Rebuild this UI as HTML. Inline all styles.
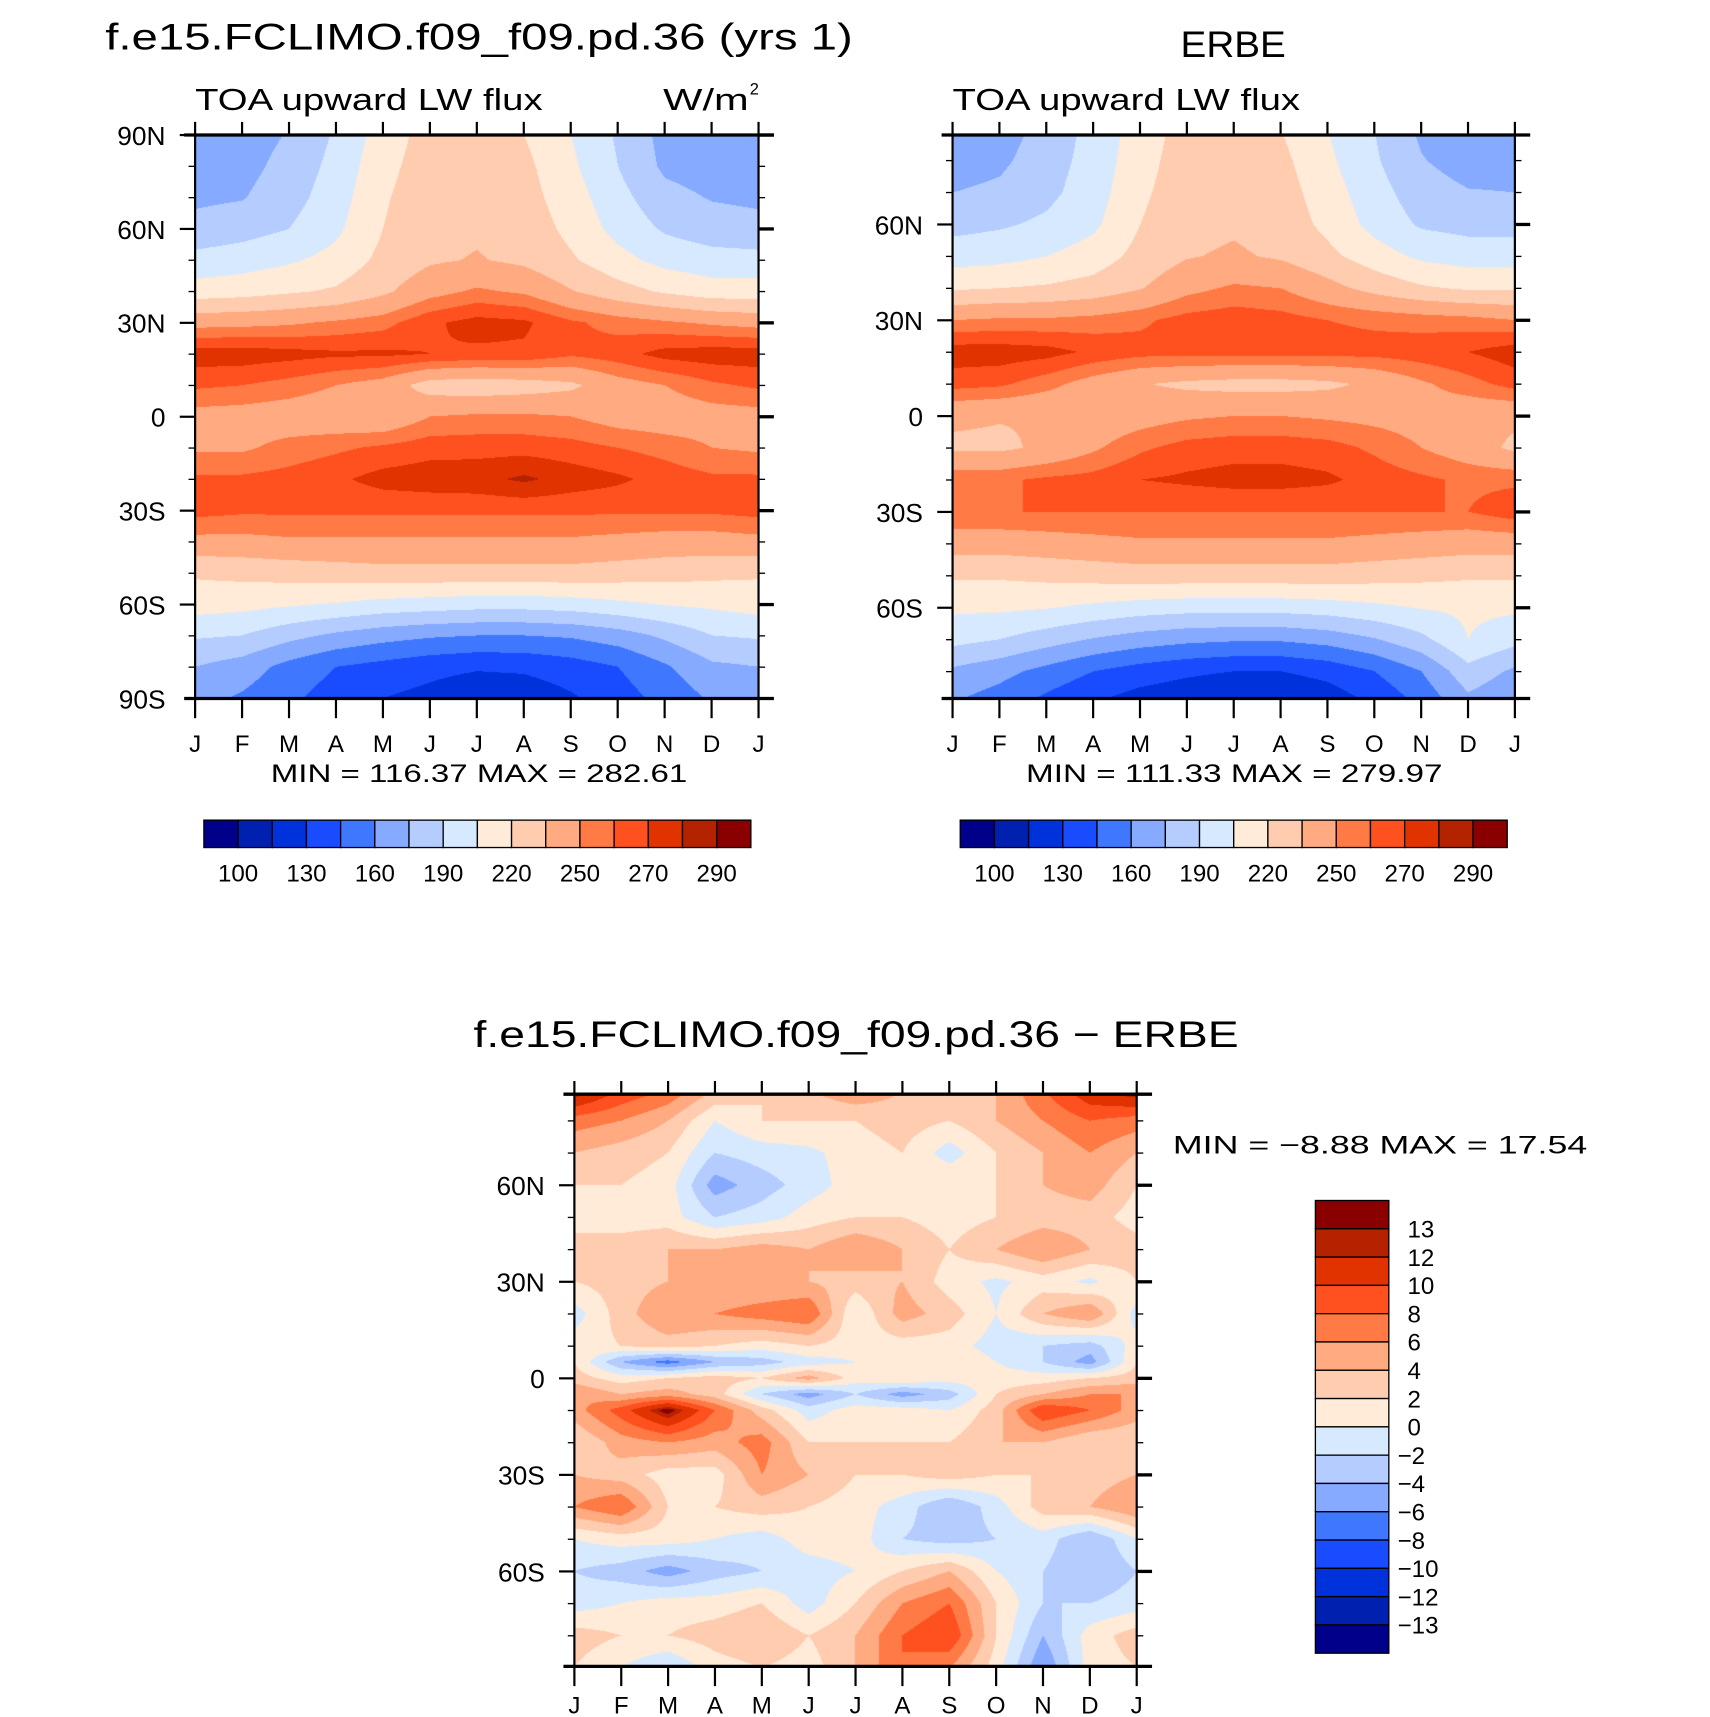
<!DOCTYPE html>
<html><head><meta charset="utf-8"><style>
html,body{margin:0;padding:0;background:#fff;}
#wrap{position:relative;width:1710px;height:1717px;overflow:hidden;}
canvas{position:absolute;}
svg{position:absolute;left:0;top:0;}
text{font-family:"Liberation Sans",sans-serif;fill:#000;}
</style></head><body>
<div id="wrap">
<canvas id="c1"></canvas>
<canvas id="c2"></canvas>
<canvas id="c3"></canvas>
<svg id="ov" width="1710" height="1717" viewBox="0 0 1560 1566"></svg>
</div>
<script>
// ---- data ----
const months = ["J","F","M","A","M","J","J","A","S","O","N","D","J"];
const colors = ["#00008a","#0020b0","#0032dc","#1a4cff","#3f78ff","#85aaff","#b4ccff","#d7e9ff","#ffebd8","#ffccb0","#ffaa80","#ff7a45","#ff5020","#e13300","#b52200","#8a0000"];
const fluxLevels = [100,115,130,145,160,175,190,205,220,235,250,260,270,280,290];
const fluxLabels = ["100","130","160","190","220","250","270","290"];
const diffLevels = [-13,-12,-10,-8,-6,-4,-2,0,2,4,6,8,10,12,13];
const diffLabels = ["13","12","10","8","6","4","2","0","\u22122","\u22124","\u22126","\u22128","\u221210","\u221212","\u221213"];
const fluxLats = [90,80,70,60,50,40,30,20,10,0,-10,-20,-30,-40,-50,-60,-70,-80,-90];
const modelVals = [
[168,168,176,192,212,226,228,220,205,188,170,166,168],
[168,170,180,195,215,228,230,224,208,190,172,168,168],
[172,174,184,198,218,230,232,226,212,195,180,174,172],
[180,184,190,202,220,231,233,229,216,200,188,182,180],
[195,198,203,210,224,233,236,232,222,210,200,196,195],
[212,214,218,222,232,245,252,248,236,226,218,212,212],
[245,246,248,252,256,268,274,272,262,256,252,248,245],
[276,276,274,272,272,270,268,268,262,266,274,276,276],
[262,260,256,250,244,228,226,228,232,244,250,258,262],
[245,244,242,240,238,250,252,252,250,244,242,244,245],
[248,248,254,258,262,266,266,266,264,260,256,250,248],
[262,262,264,268,274,276,277,282,276,272,266,262,262],
[264,262,262,262,262,262,262,262,262,262,262,262,264],
[246,246,248,248,248,248,248,248,248,246,244,244,246],
[222,224,226,228,230,230,230,230,230,228,226,224,222],
[212,210,207,204,200,198,196,196,198,202,206,208,212],
[192,190,180,172,166,162,160,160,162,168,178,190,192],
[175,168,155,145,140,135,132,133,138,145,158,172,175],
[165,158,148,138,130,125,118,120,128,138,150,162,165]];
const erbeVals = [
[158,168,180,195,212,226,228,220,205,190,172,162,158],
[168,172,183,196,214,228,230,224,208,192,176,168,168],
[175,178,186,198,217,229,231,227,212,196,182,176,175],
[185,188,193,202,220,231,233,229,216,200,188,185,185],
[198,200,205,212,225,234,237,233,224,212,202,198,198],
[218,220,222,226,234,246,252,250,240,230,222,218,218],
[250,252,252,254,258,264,266,264,260,258,256,254,250],
[276,276,274,268,264,264,264,264,264,264,266,270,276],
[264,262,254,244,236,232,230,230,232,238,248,256,264],
[238,236,236,240,244,248,250,250,248,246,244,240,238],
[232,232,238,248,258,264,266,266,264,258,250,242,232],
[258,258,262,264,270,272,274,274,272,266,262,258,258],
[260,260,260,260,260,260,260,260,260,260,260,260,266],
[242,242,244,246,248,248,248,248,248,246,244,242,242],
[222,222,224,226,228,228,228,228,228,226,224,222,222],
[208,208,206,202,198,196,196,196,198,202,206,208,208],
[195,190,182,174,168,164,162,162,166,174,186,205,195],
[172,165,155,145,138,133,130,130,135,145,160,185,172],
[160,152,140,130,122,118,114,114,120,132,148,170,160]];
const diffLats = [90,80,70,60,50,40,30,20,10,5,0,-5,-10,-20,-30,-40,-50,-60,-70,-80,-90];
const diffVals = [
[14,10,8,4,2,4,6,4,2,4,8,12,14],
[7,6,4,0,2,2,2,3,2,4,6,8,7],
[4,3,2,-2,-1,-0.5,1,2,-1,2,4,6,4],
[2,2,1,-5,-3,-1,1,2,2,2,4,5,2],
[1,1,1,-2,-1,1,2,2,1,2,3,3,1],
[3,3,4,4,5,4,6,4,2,4,6,4,3],
[2,3,4,4,4,4,3,4,1,-0.5,1,-0.5,2],
[-1,3,6,6,7,8,0,5,3,0,4,6,-1],
[1,2,3,2,1,2,1,1,1,-1,-2,-3,1],
[2,-4,-7,-4,-3,-1,0,1,2,0,-2,-5,2],
[3,1,2,3,2,5,1,2,1,1,1,2,3],
[6,4,5,3,-2,-5,-2,-5,-3,2,4,6,6],
[5,9,14,8,3,-1,1,1,0,3,10,8,5],
[2,5,6,5,7,2,2,2,2,4,4,2,2],
[4,3,1,1,6,4,2,2,3,2,2,3,4],
[6,8,2,2,3,2,1,-1,-4,-1,3,4,6],
[0,1,1,0,-1,1,1,-2,-3,-2,-1,-4,0],
[-2,-3,-5,-3,-2,-1,0,2,4,0,-2,-4,-2],
[-1,0,1,1,2,-1,2,6,8,2,-2,-2,-1],
[3,2,2,3,4,2,4,8,10,2,-4,1,3],
[2,0,-2,1,2,1,4,8,6,1,-6,1,2]];

// ---- geometry (display coords, viewBox 1560x1566) ----
const S = 1710/1560;
const panels = [
 {id:"c1", name:"model", x0:178,x1:692,y0:123,y1:637,latTop:90,latBot:-90,lats:fluxLats,vals:modelVals,levels:fluxLevels,lab:49},
 {id:"c2", name:"erbe", x0:869,x1:1382,y0:123,y1:637,latTop:88,latBot:-88.4,lats:fluxLats,vals:erbeVals,levels:fluxLevels,lab:49},
 {id:"c3", name:"diff", x0:524,x1:1037,y0:998,y1:1520,latTop:88.3,latBot:-89.5,lats:diffLats,vals:diffVals,levels:diffLevels,lab:43}];

function levelIndex(v, lv){let i=0;while(i<lv.length && v>=lv[i]) i++;return i;}
function sample(p, m, lat){
  const lats=p.lats;let r=0;
  while(r<lats.length-2 && lat<lats[r+1]) r++;
  const t=(lats[r]-lat)/(lats[r]-lats[r+1]);
  const c=Math.min(11,Math.floor(m)), u=m-c;
  const a=p.vals[r][c],b=p.vals[r][c+1],cc=p.vals[r+1][c],d=p.vals[r+1][c+1];
  return (a*(1-u)+b*u)*(1-t)+(cc*(1-u)+d*u)*t;
}
function hex(h){return [parseInt(h.slice(1,3),16),parseInt(h.slice(3,5),16),parseInt(h.slice(5,7),16)];}
const rgb = colors.map(hex);
panels.forEach(p=>{
  const cv=document.getElementById(p.id);
  const L=Math.round(p.x0*S),T=Math.round(p.y0*S),W=Math.round(p.x1*S)-L,H=Math.round(p.y1*S)-T;
  cv.width=W;cv.height=H;cv.style.left=L+"px";cv.style.top=T+"px";
  const ctx=cv.getContext("2d");const img=ctx.createImageData(W,H);
  for(let y=0;y<H;y++){const lat=p.latTop+(p.latBot-p.latTop)*(y+0.5)/H;
    for(let x=0;x<W;x++){const m=12*(x+0.5)/W;const v=sample(p,m,lat);
      const c=rgb[levelIndex(v,p.levels)];const k=(y*W+x)*4;
      img.data[k]=c[0];img.data[k+1]=c[1];img.data[k+2]=c[2];img.data[k+3]=255;}}
  ctx.putImageData(img,0,0);
});

// ---- overlay ----
const svg=document.getElementById("ov");const NS="http://www.w3.org/2000/svg";
function el(tag,attrs,txt){const e=document.createElementNS(NS,tag);for(const k in attrs)e.setAttribute(k,attrs[k]);if(txt!==undefined)e.textContent=txt;svg.appendChild(e);return e;}
function txt(x,y,s,size,anchor,name,len){const e=el("text",{x:x,y:y,"font-size":size,"text-anchor":anchor||"start"},s);
  if(len){e.setAttribute("textLength",len);e.setAttribute("lengthAdjust","spacingAndGlyphs");}
  
  
  return e;}
function line(x1,y1,x2,y2,w){return el("line",{x1:x1,y1:y1,x2:x2,y2:y2,stroke:"#000","stroke-width":w||1.5});}

function axes(p, yTicks, pref){
  const fr=el("rect",{x:p.x0,y:p.y0,width:p.x1-p.x0,height:p.y1-p.y0,fill:"none",stroke:"#000","stroke-width":2});
  
  
  line(p.x0-10,p.y0,p.x1+14,p.y0,3);line(p.x0-10,p.y1,p.x1+14,p.y1,3);
  const yOf=lat=>p.y0+(p.latTop-lat)/(p.latTop-p.latBot)*(p.y1-p.y0);
  for(let i=0;i<13;i++){const x=p.x0+(p.x1-p.x0)*i/12;
    line(x,p.y0,x,p.y0-12,2);line(x,p.y1,x,p.y1+18,2);
    txt(x,p.y1+p.lab,months[i],22,"middle",pref+"-x-tick-"+i);}
  for(let lat=-80;lat<=90;lat+=10){if(lat>p.latTop||lat<p.latBot)continue;const y=yOf(lat);
    const major=lat%30===0;const l=major?14:6;
    line(p.x0,y,p.x0-l,y,major?2:1.2);line(p.x1,y,p.x1+l,y,major?3:1.2);}
  yTicks.forEach(([lat,lab])=>{txt(p.x0-27,yOf(lat)+9,lab,24,"end",pref+"-y-tick-"+lab);});
}
function hbar(x0,y0,w,h,pref){const bw=w/16;
  for(let i=0;i<16;i++){const r=el("rect",{x:x0+i*bw,y:y0,width:bw,height:h,fill:colors[i],stroke:"#000","stroke-width":1.2});
    
    }
  fluxLabels.forEach((l,j)=>txt(x0+bw*(1+2*j),y0+h+31,l,22,"middle",pref+"-colorbar-label"));
}
const [p1,p2,p3]=panels;
axes(p1,[[90,"90N"],[60,"60N"],[30,"30N"],[0,"0"],[-30,"30S"],[-60,"60S"],[-90,"90S"]],"model");
axes(p2,[[60,"60N"],[30,"30N"],[0,"0"],[-30,"30S"],[-60,"60S"]],"erbe");
axes(p3,[[60,"60N"],[30,"30N"],[0,"0"],[-30,"30S"],[-60,"60S"]],"diff");

txt(96,45,"f.e15.FCLIMO.f09_f09.pd.36 (yrs 1)",34,"start","model-title",682);
txt(1125,52,"ERBE",34,"middle","erbe-title",96);
txt(178,100,"TOA upward LW flux",28,"start","model-subtitle",317);
txt(869,100,"TOA upward LW flux",28,"start","erbe-subtitle",317);
txt(605,100,"W/m",28,"start","units-label",78);
txt(684,86,"2",15,"start","units-superscript");
txt(437,713,"MIN = 116.37 MAX = 282.61",23,"middle","model-min-max",380);
txt(1126,713,"MIN = 111.33 MAX = 279.97",23,"middle","erbe-min-max",380);
hbar(186,748,499,25,"model");
hbar(876,748,499,25,"erbe");

txt(432,955,"f.e15.FCLIMO.f09_f09.pd.36 \u2212 ERBE",34,"start","diff-title",698);
txt(1070,1052,"MIN =   \u22128.88 MAX =   17.54",23,"start","diff-min-max",378);
const vbx=1200,vby=1095,vbw=67,vbh=413,bh=vbh/16;
for(let i=0;i<16;i++){const r=el("rect",{x:vbx,y:vby+i*bh,width:vbw,height:bh,fill:colors[15-i],stroke:"#000","stroke-width":1.2});
  
  }
diffLabels.forEach((l,j)=>txt(l[0]==="\u2212"?1275:1284,vby+bh*(j+1)+8,l,22,"start","diff-colorbar-label"));
</script>
</body></html>
